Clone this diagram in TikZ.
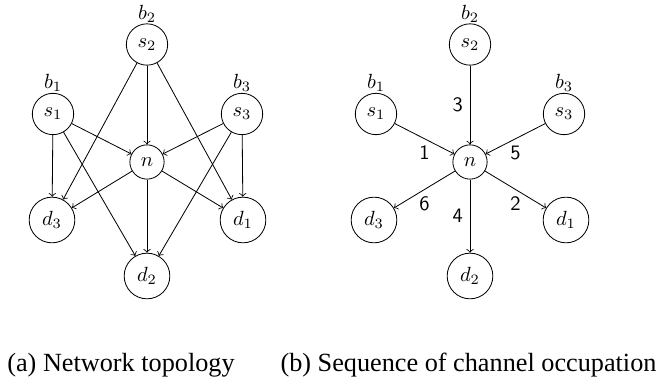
\documentclass[tikz,border=0pt]{standalone}
\usepackage{fontspec}
\newfontfamily\capfont{Liberation Serif}
\begin{document}
\begin{tikzpicture}[x=0.4878pt, y=-0.4878pt,
  vtx/.style={circle, draw, thin},
  budget/.style={label={[label distance=-3pt]above:#1}},
  arr/.style={->, thin},
  seq/.style={font=\sffamily},
  captxt/.style={font=\capfont\fontsize{12.8}{15}\selectfont, inner sep=0pt, anchor=base}]
\useasboundingbox (0,0) rectangle (662,381);

% (a) network topology
\node[vtx, budget=$b_2$] (as2) at (147,44.5) {$s_2$};
\node[vtx, budget=$b_1$] (as1) at (53,114) {$s_1$};
\node[vtx, budget=$b_3$] (as3) at (242,114) {$s_3$};
\node[vtx] (an) at (147,162) {$n$};
\node[vtx] (ad3) at (52,220) {$d_3$};
\node[vtx] (ad1) at (243,220) {$d_1$};
\node[vtx] (ad2) at (147,276) {$d_2$};

\draw[arr] (as1) -- (an);
\draw[arr] (as1) -- (ad3);
\draw[arr] (as1) -- (ad2);
\draw[arr] (as2) -- (ad3);
\draw[arr] (as2) -- (an);
\draw[arr] (as2) -- (ad1);
\draw[arr] (as3) -- (an);
\draw[arr] (as3) -- (ad2);
\draw[arr] (as3) -- (ad1);
\draw[arr] (an) -- (ad3);
\draw[arr] (an) -- (ad2);
\draw[arr] (an) -- (ad1);

% (b) sequence of channel occupation
\node[vtx, budget=$b_2$] (bs2) at (470,44.5) {$s_2$};
\node[vtx, budget=$b_1$] (bs1) at (376,114) {$s_1$};
\node[vtx, budget=$b_3$] (bs3) at (564,114) {$s_3$};
\node[vtx] (bn) at (470,162) {$n$};
\node[vtx] (bd3) at (374,220) {$d_3$};
\node[vtx] (bd1) at (566,220) {$d_1$};
\node[vtx] (bd2) at (470,276) {$d_2$};

\draw[arr] (bs1) -- node[seq, below] {1} (bn);
\draw[arr] (bn) -- node[seq, below] {2} (bd1);
\draw[arr] (bs2) -- node[seq, left] {3} (bn);
\draw[arr] (bn) -- node[seq, left] {4} (bd2);
\draw[arr] (bs3) -- node[seq, below] {5} (bn);
\draw[arr] (bn) -- node[seq, below] {6} (bd3);

% captions
\node[captxt] (capa) at (121,372) {(a) Network topology};
\node[captxt] (capb) at (468.5,372) {(b) Sequence of channel occupation};
\end{tikzpicture}
\end{document}
